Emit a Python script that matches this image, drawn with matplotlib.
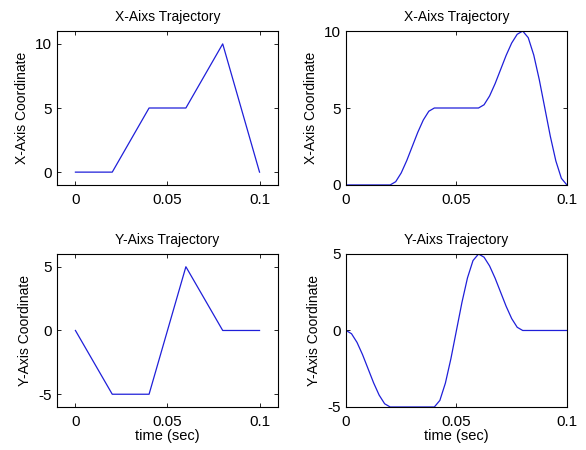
import matplotlib.pyplot as plt
from matplotlib.ticker import FixedLocator, FixedFormatter

plt.rcParams['font.family'] = ['Liberation Sans', 'DejaVu Sans']

# Waypoints (linear trajectory, left column)
t_way = [0, 0.02, 0.04, 0.06, 0.08, 0.1]
x_way = [0, 0, 5, 5, 10, 0]
y_way = [0, -5, -5, 5, 0, 0]

# Smooth trajectory samples read from the right column (step 0.0025 s)
t_smooth = [i * 0.0025 for i in range(41)]
x_smooth = [0, 0, 0, 0, 0, 0, 0, 0, 0,
            0.21, 0.78, 1.58, 2.5, 3.42, 4.22, 4.79, 5,
            5, 5, 5, 5, 5, 5, 5, 5,
            5.21, 5.78, 6.58, 7.5, 8.42, 9.22, 9.79, 10,
            9.57, 8.44, 6.84, 5, 3.16, 1.56, 0.43, 0]
y_smooth = [0, -0.21, -0.78, -1.58, -2.5, -3.42, -4.22, -4.79, -5,
            -5, -5, -5, -5, -5, -5, -5, -5,
            -4.57, -3.44, -1.84, 0, 1.84, 3.44, 4.57, 5,
            4.79, 4.22, 3.42, 2.5, 1.58, 0.78, 0.21, 0,
            0, 0, 0, 0, 0, 0, 0, 0]

line_color = (0.12, 0.12, 0.85)
fs = 11

fig = plt.figure(figsize=(5.86, 4.5), dpi=100)
w = 0.377
ax_tl = fig.add_axes([0.0973, 0.589, w, 0.342])
ax_tr = fig.add_axes([0.5904, 0.589, w, 0.342])
ax_bl = fig.add_axes([0.0973, 0.0956, w, 0.34])
ax_br = fig.add_axes([0.5904, 0.0956, w, 0.34])


def style(ax, title, ylabel, yticks, xlim, ylim, xlabel=None):
    ax.set_xlim(xlim)
    ax.set_ylim(ylim)
    ax.xaxis.set_major_locator(FixedLocator([0, 0.05, 0.1]))
    ax.xaxis.set_major_formatter(FixedFormatter(['0', '0.05', '0.1']))
    ax.set_yticks(yticks)
    ax.set_yticklabels([str(v) for v in yticks])
    ax.tick_params(direction='in', top=True, right=True, length=3,
                   width=0.6, labelsize=fs, pad=4)
    ax.tick_params(axis='x', pad=6)
    ax.set_title(title, fontsize=10, pad=7)
    ax.set_ylabel(ylabel, fontsize=10, labelpad=4)
    if xlabel:
        ax.set_xlabel(xlabel, fontsize=10.5, labelpad=0)
    for s in ax.spines.values():
        s.set_linewidth(0.8)


ax_tl.plot(t_way, x_way, color=line_color, lw=0.9)
style(ax_tl, 'X-Aixs Trajectory', 'X-Axis Coordinate', [0, 5, 10],
      (-0.01, 0.11), (-1, 11))

ax_tr.plot(t_smooth, x_smooth, color=line_color, lw=0.9)
style(ax_tr, 'X-Aixs Trajectory', 'X-Axis Coordinate', [0, 5, 10],
      (0, 0.1), (0, 10))

ax_bl.plot(t_way, y_way, color=line_color, lw=0.9)
style(ax_bl, 'Y-Aixs Trajectory', 'Y-Axis Coordinate', [-5, 0, 5],
      (-0.01, 0.11), (-6, 6), xlabel='time (sec)')

ax_br.plot(t_smooth, y_smooth, color=line_color, lw=0.9)
style(ax_br, 'Y-Aixs Trajectory', 'Y-Axis Coordinate', [-5, 0, 5],
      (0, 0.1), (-5, 5), xlabel='time (sec)')

fig.savefig('out.png', dpi=100)
